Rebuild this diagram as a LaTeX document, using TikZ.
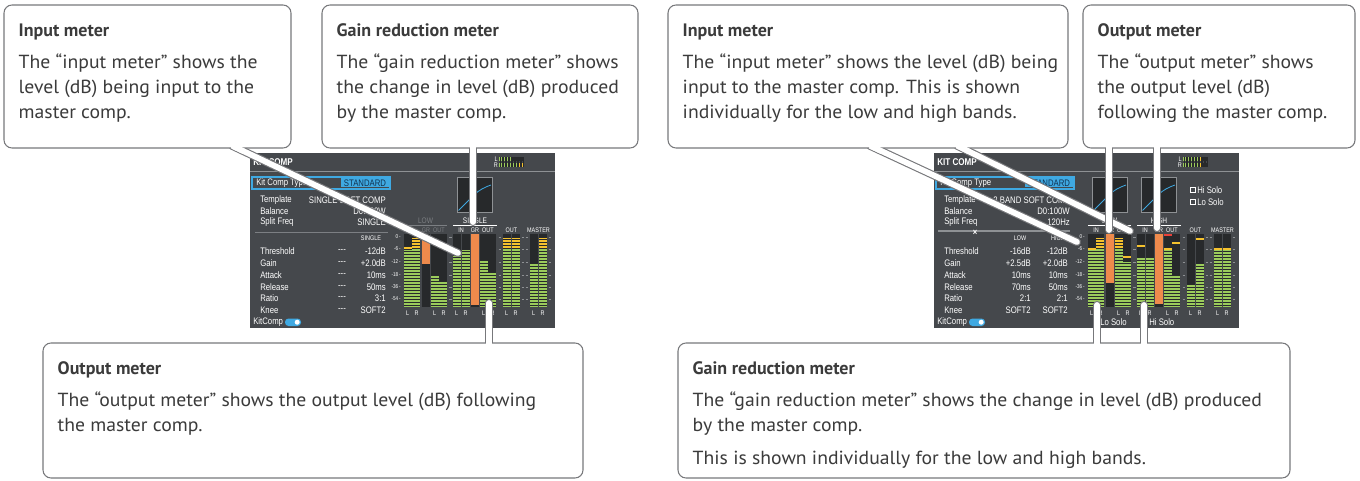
\documentclass[tikz,border=0pt]{standalone}
\usepackage{fontspec}
\setmainfont{PT Sans}
\newfontfamily\bodyfont[FakeStretch=1.04]{PT Sans}
\newfontfamily\panelfont[FakeStretch=0.82]{Liberation Sans}
\usetikzlibrary{calc}

\definecolor{callgray}{HTML}{77787B}
\definecolor{calltxt}{HTML}{3B3B3B}
\definecolor{panelbg}{HTML}{45484C}
\definecolor{panelrule}{HTML}{8E9194}
\definecolor{meterbg}{HTML}{27292B}
\definecolor{vugreen}{HTML}{9BCB5C}
\definecolor{vuyellow}{HTML}{F5C22E}
\definecolor{vured}{HTML}{E8403A}
\definecolor{grorange}{HTML}{EE8A4C}
\definecolor{selblue}{HTML}{3FA9E2}
\definecolor{stdtxt}{HTML}{123250}
\definecolor{fadetxt}{HTML}{7C7F83}

\pgfdeclarelayer{panel}
\pgfdeclarelayer{stem}
\pgfsetlayers{panel,stem,main}

\tikzset{every picture/.style={line width=0.75pt}}
\tikzset{
  callbox/.style={draw=callgray, fill=white, rounded corners=6pt, line width=0.8pt, inner sep=0pt},
  calltext/.style={anchor=north west, inner sep=0pt, align=left, text=calltxt, font=\bodyfont\fontsize{14.2}{18.75}\selectfont},
  stemedge/.style={draw=callgray, line width=6pt, line cap=round},
  stemfill/.style={draw=white, line width=4.3pt, line cap=round},
  stempatch/.style={draw=white, line width=4.3pt},
  ptxt/.style={inner sep=0pt, text=white, font=\panelfont\fontsize{7.1}{7.5}\selectfont},
  psmall/.style={inner sep=0pt, text=white, font=\panelfont\fontsize{5}{5.5}\selectfont},
  segline/.style={draw=meterbg, line width=0.55pt},
}

% callout heading
\newcommand{\calltitle}[1]{{\rmfamily\bfseries\fontsize{13.5}{18.75}\selectfont #1}}
% meter column: x, yellow from, green from
\newcommand{\vubar}[3]{%
  \fill[meterbg] (#1,234) rectangle (#1+7.5,307);
  \fill[vuyellow] (#1,#2) rectangle (#1+7.5,#3);
  \fill[vugreen] (#1,#3) rectangle (#1+7.5,307);
  \foreach \sy in {236.5,239.5,...,305.5} \draw[segline] (#1,\sy) -- (#1+7.5,\sy);
}
% peak hold mark: x, y, colour
\newcommand{\vupeak}[3]{\fill[#3] (#1,#2) rectangle (#1+7.5,#2+2);}
% gain reduction column: x, orange from, orange to
\newcommand{\grbar}[3]{%
  \fill[meterbg] (#1,234) rectangle (#1+7.5,307);
  \fill[grorange] (#1,#2) rectangle (#1+7.5,#3);
}
% parts shared by both screens
\newcommand{\panelbase}[1]{%
  \fill[panelbg] (250,153) rectangle (555,328);
  \draw[panelrule, line width=0.6pt] (250,171) -- (555,171);
  \node[ptxt, anchor=west, font=\panelfont\bfseries\fontsize{7.4}{8}\selectfont] (#1title) at (253,162.5) {KIT COMP};
  \node[psmall, anchor=east] (#1minil) at (498,159.3) {L};
  \node[psmall, anchor=east] (#1minir) at (498,165.3) {R};
  % kit comp type
  \draw[selblue, line width=0.8pt] (252,177) rectangle (390,189);
  \node[ptxt, anchor=west] (#1type) at (256,183) {Kit Comp Type};
  \fill[selblue] (341,178.5) rectangle (389,187.5);
  \node[ptxt, anchor=center, text=stdtxt] (#1std) at (365,183.2) {STANDARD};
  \node[ptxt, anchor=west] (#1tpl) at (260,200) {Template};
  \node[ptxt, anchor=west] (#1bal) at (260,211) {Balance};
  \node[ptxt, anchor=west] (#1split) at (260,222) {Split Freq};
  \foreach \py/\pname in {251/Threshold,263/Gain,275/Attack,287/Release,298/Ratio,310/Knee}
    \node[ptxt, anchor=west] (#1p\py) at (260,\py) {\pname};
  % dB scale
  \foreach \dy/\db in {237/0,249/-6,262/-12,275/-18,287/-36,299/-54}{
    \node[psmall, anchor=east, font=\panelfont\fontsize{4.2}{5}\selectfont] (#1db\dy) at (401,\dy) {\db\,-};
    \draw[panelrule, line width=0.5pt] (449,\dy) -- (451.5,\dy) (498.5,\dy) -- (501,\dy)
      (521.5,\dy) -- (524,\dy) (525.5,\dy) -- (528,\dy) (548.5,\dy) -- (551,\dy);
  }
  \node[psmall] (#1hout) at (511.5,230) {OUT};
  \node[psmall] (#1hmas) at (538.5,230) {MASTER};
  \foreach \lx in {404,431,453,480,503,530}{
    \node[psmall] (#1l\lx) at (\lx+3.75,313) {L};
    \node[psmall] (#1r\lx) at (\lx+12.5,313) {R};
  }
  \node[ptxt, anchor=west] (#1kc) at (253,322.5) {KitComp};
  \fill[selblue, rounded corners=2.6pt] (285,318.5) rectangle (301,326);
  \fill[white] (297.2,322.2) circle (1.9pt);
}

\begin{document}
\begin{tikzpicture}[x=0.75pt,y=0.75pt,yscale=-1,xscale=1]
\useasboundingbox (0,0) rectangle (1360,481);

%Callout boxes
\node[callbox, minimum width=215.25pt, minimum height=107.25pt] (inbox) at (147.5,76.5) {};
\node[callbox, minimum width=237pt, minimum height=107.25pt] (grbox) at (480,76.5) {};
\node[callbox, minimum width=405pt, minimum height=101.25pt] (outbox) at (313,410.5) {};
\node[callbox, minimum width=300pt, minimum height=107.25pt] (rinbox) at (868,76.5) {};
\node[callbox, minimum width=204pt, minimum height=107.25pt] (routbox) at (1219,76.5) {};
\node[callbox, minimum width=459pt, minimum height=101.25pt] (rgrbox) at (984,410.5) {};

%Screen: single band
\begin{pgfonlayer}{panel}
\panelbase{l}
\fill[meterbg] (499,157) rectangle (524,161.5);
\fill[vugreen] (499,157) rectangle (513,161.5);
\fill[meterbg] (499,163) rectangle (524,167.5);
\fill[vugreen] (499,163) rectangle (517,167.5);
\fill[vuyellow] (517,163) rectangle (523,167.5);
\foreach \sx in {500.5,502,...,523} \draw[meterbg, line width=0.4pt] (\sx,157) -- (\sx,167.5);
\node[ptxt, anchor=east] (ltplv) at (386,200) {SINGLE SOFT COMP};
\node[ptxt, anchor=east] (lbalv) at (386,211) {D0:100W};
\node[ptxt, anchor=east] (lsplitv) at (386,222) {SINGLE};
\draw[fadetxt, line width=0.5pt] (255,232) -- (388,232);
\node[psmall] (lcolhd) at (371,238.5) {SINGLE};
\foreach \py/\pv in {251/-12dB,263/+2.0dB,275/10ms,287/50ms,298/3:1,310/SOFT2}{
  \node[ptxt] (ldash\py) at (342,\py) {---};
  \node[ptxt, anchor=east] (lv\py) at (386,\py) {\pv};
}
\draw[panelrule, fill=meterbg, line width=0.5pt] (457,177) rectangle (492,212);
\draw[selblue, line width=0.6pt] (458.5,210.5) -- (474,195) .. controls (479,190) and (485,187) .. (491,185);
\node[psmall, text=fadetxt, font=\panelfont\fontsize{6}{6.5}\selectfont] (llow) at (425.5,221) {LOW};
\draw[fadetxt, line width=0.5pt] (404,225.5) -- (447,225.5);
\node[psmall, text=fadetxt] (llowin) at (408,230) {IN};
\node[psmall, text=fadetxt] (llowgr) at (426,230) {GR};
\node[psmall, text=fadetxt] (llowout) at (439,230) {OUT};
\node[psmall, font=\panelfont\fontsize{6}{6.5}\selectfont] (lsingle) at (475,220.5) {SINGLE};
\draw[white, line width=0.5pt] (453,225.5) -- (497,225.5);
\node[psmall] (lsin) at (461,230) {IN};
\node[psmall] (lsgr) at (475,230) {GR};
\node[psmall] (lsout) at (488,230) {OUT};
\vubar{404}{250}{250} \vupeak{404}{247}{vuyellow}
\vubar{412}{238}{249}
\grbar{422}{238}{264}
\vubar{431}{276}{276}
\vubar{439}{282}{282}
\vubar{453}{256}{256}
\vubar{462}{250}{250}
\grbar{471}{234}{305}
\vubar{480}{260}{260}
\vubar{488}{273}{273}
\vubar{503}{238}{249}
\vubar{512}{238}{249}
\vubar{530}{263}{263}
\vubar{539}{238}{249}
\end{pgfonlayer}

%Screen: two bands
\begin{pgfonlayer}{panel}
\begin{scope}[xshift=513pt]
\panelbase{r}
\fill[meterbg] (499,157) rectangle (524,161.5);
\fill[vugreen] (499,157) rectangle (516,161.5);
\fill[vuyellow] (516,157) rectangle (519,161.5);
\fill[meterbg] (499,163) rectangle (524,167.5);
\fill[vugreen] (499,163) rectangle (514,167.5);
\fill[vuyellow] (514,163) rectangle (519,167.5);
\foreach \sx in {500.5,502,...,523} \draw[meterbg, line width=0.4pt] (\sx,157) -- (\sx,167.5);
\node[ptxt, anchor=east] (rtplv) at (386,200) {2 BAND SOFT COMP};
\node[ptxt, anchor=east] (rbalv) at (386,211) {D0:100W};
\node[ptxt, anchor=east] (rsplitv) at (386,222) {120Hz};
\draw[panelrule, line width=1.2pt] (254,231) -- (386,231);
\node[ptxt, font=\panelfont\bfseries\fontsize{7}{7}\selectfont] (rcross) at (291,233) {×};
\node[psmall] (rcollow) at (336,238.5) {LOW};
\node[psmall] (rcolhigh) at (374,238.5) {HIGH};
\foreach \py/\lv/\hv in {251/-16dB/-12dB,263/+2.5dB/+2.0dB,275/10ms/10ms,287/70ms/50ms,298/2:1/2:1,310/SOFT2/SOFT2}{
  \node[ptxt, anchor=east] (rlv\py) at (347,\py) {\lv};
  \node[ptxt, anchor=east] (rhv\py) at (384,\py) {\hv};
}
\draw[panelrule, fill=meterbg, line width=0.5pt] (408,177) rectangle (443,212);
\draw[selblue, line width=0.6pt] (409.5,210.5) -- (425,195) .. controls (430,190) and (436,187) .. (442,185);
\draw[panelrule, fill=meterbg, line width=0.5pt] (457,177) rectangle (492,212);
\draw[selblue, line width=0.6pt] (458.5,210.5) -- (474,195) .. controls (479,190) and (485,187) .. (491,185);
\draw[white, line width=0.5pt] (506,187.5) rectangle (511,192.5);
\node[ptxt, anchor=west] (rhisolo) at (513,190) {Hi Solo};
\draw[white, line width=0.5pt] (506,199.5) rectangle (511,204.5);
\node[ptxt, anchor=west] (rlosolo) at (513,202) {Lo Solo};
\node[psmall, font=\panelfont\fontsize{6}{6.5}\selectfont] (rlow) at (425.5,220.5) {LOW};
\draw[white, line width=0.5pt] (404,225.5) -- (447,225.5);
\node[psmall] (rlin) at (412,230) {IN};
\node[psmall] (rlgr) at (426,230) {GR};
\node[psmall] (rlout) at (439,230) {OUT};
\node[psmall, font=\panelfont\fontsize{6}{6.5}\selectfont] (rhigh) at (475,220.5) {HIGH};
\draw[white, line width=0.5pt] (453,225.5) -- (497,225.5);
\node[psmall] (rhin) at (461,230) {IN};
\node[psmall] (rhgr) at (475,230) {GR};
\node[psmall] (rhout) at (488,230) {OUT};
\vubar{404}{250}{250} \vupeak{404}{248}{vuyellow}
\vubar{412}{238}{249}
\grbar{422}{234}{283}
\vubar{431}{238}{249}
\vubar{439}{262}{262} \vupeak{439}{256}{vuyellow}
\vubar{453}{257}{257} \vupeak{453}{245}{vuyellow}
\vubar{462}{257}{257}
\grbar{471}{234}{304}
\vubar{480}{250}{250} \vupeak{480}{248}{vuyellow} \vupeak{480}{234}{vured}
\vubar{488}{276}{276} \vupeak{488}{242}{vuyellow}
\vubar{503}{285}{285}
\vubar{512}{263}{263} \vupeak{512}{238}{vuyellow}
\vubar{530}{250}{250} \vupeak{530}{248}{vuyellow}
\vubar{539}{250}{250} \vupeak{539}{248}{vuyellow}
\node[ptxt, anchor=west] (rlosolob) at (416,322.5) {Lo Solo};
\node[ptxt, anchor=west] (rhisolob) at (465,322.5) {Hi Solo};
\end{scope}
\end{pgfonlayer}

%Callout stems
\coordinate (inpt) at (458,253);
\coordinate (grpt) at (473,222);
\coordinate (outpt) at (489,303);
\coordinate (rinlow) at (1077,242);
\coordinate (rinhigh) at (1130,231);
\coordinate (routlow) at (1109,230);
\coordinate (routhigh) at (1157,228);
\coordinate (rgrlow) at (1097,305);
\coordinate (rgrhigh) at (1144,305);
\coordinate (inst) at ($(inbox.south)+(90.5,0)$);
\coordinate (grst) at ($(grbox.south)+(-7,0)$);
\coordinate (outst) at ($(outbox.north)+(176,0)$);
\coordinate (rinst1) at ($(rinbox.south)+(8,0)$);
\coordinate (rinst2) at ($(rinbox.south)+(95,0)$);
\coordinate (routst1) at ($(routbox.south)+(-110,0)$);
\coordinate (routst2) at ($(routbox.south)+(-62,0)$);
\coordinate (rgrst1) at ($(rgrbox.north)+(113,0)$);
\coordinate (rgrst2) at ($(rgrbox.north)+(160,0)$);

\begin{pgfonlayer}{stem}
\foreach \a/\b in {inst/inpt,grst/grpt,outst/outpt,rinst1/rinlow,rinst2/rinhigh,routst1/routlow,routst2/routhigh,rgrst1/rgrlow,rgrst2/rgrhigh}{
  \draw[stemedge] ($(\a)!-5pt!(\b)$) -- (\b);
  \draw[stemfill] ($(\a)!-5pt!(\b)$) -- (\b);
}
\end{pgfonlayer}
\foreach \a/\b in {inst/inpt,grst/grpt,outst/outpt,rinst1/rinlow,rinst2/rinhigh,routst1/routlow,routst2/routhigh,rgrst1/rgrlow,rgrst2/rgrhigh}
  \draw[stempatch] ($(\a)!-5pt!(\b)$) -- ($(\a)!5pt!(\b)$);

% Text Node
\node[calltext] (intxt) at ($(inbox.north west)+(15,19)$) {\calltitle{Input meter}\\[5.25pt]
The “input meter” shows the\\
level (dB) being input to the\\
master comp.};
% Text Node
\node[calltext] (grtxt) at ($(grbox.north west)+(15,19)$) {\calltitle{Gain reduction meter}\\[5.25pt]
The “gain reduction meter” shows\\
the change in level (dB) produced\\
by the master comp.};
% Text Node
\node[calltext] (outtxt) at ($(outbox.north west)+(15,19)$) {\calltitle{Output meter}\\[5.25pt]
The “output meter” shows the output level (dB) following\\
the master comp.};
% Text Node
\node[calltext] (rintxt) at ($(rinbox.north west)+(15,19)$) {\calltitle{Input meter}\\[5.25pt]
The “input meter” shows the level (dB) being\\
input to the master comp. This is shown\\
individually for the low and high bands.};
% Text Node
\node[calltext] (routtxt) at ($(routbox.north west)+(15,19)$) {\calltitle{Output meter}\\[5.25pt]
The “output meter” shows\\
the output level (dB)\\
following the master comp.};
% Text Node
\node[calltext] (rgrtxt) at ($(rgrbox.north west)+(15,19)$) {\calltitle{Gain reduction meter}\\[5.25pt]
The “gain reduction meter” shows the change in level (dB) produced\\
by the master comp.\\[6pt]
This is shown individually for the low and high bands.};

\end{tikzpicture}
\end{document}
